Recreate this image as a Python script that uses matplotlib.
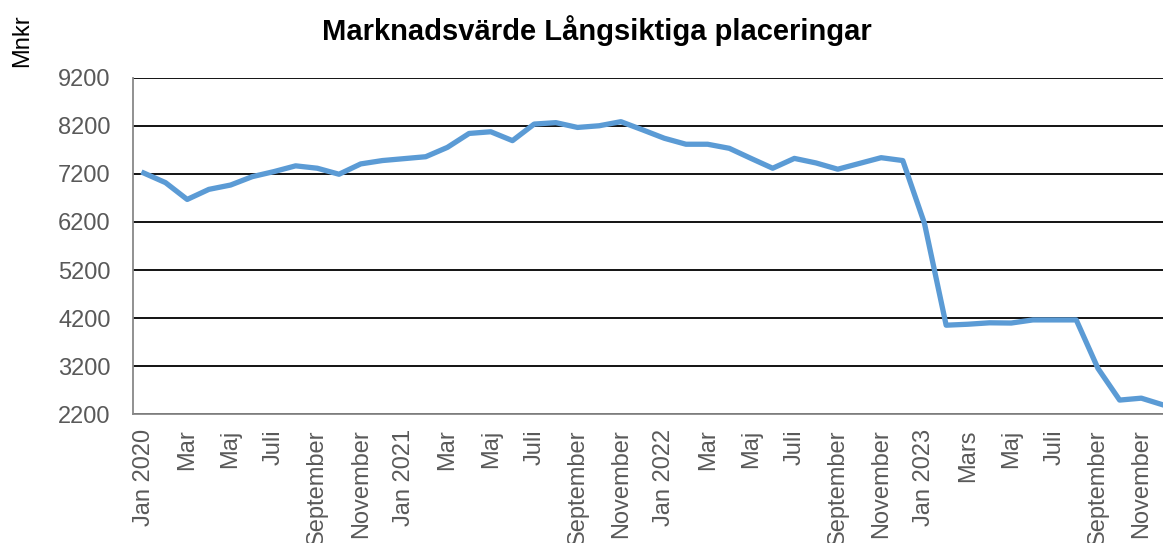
import matplotlib
matplotlib.use("Agg")
import matplotlib.pyplot as plt

plt.rcParams['font.family'] = ['Liberation Sans', 'DejaVu Sans']

months = list(range(48))
values = [7220, 7020, 6670, 6880, 6970, 7145, 7250, 7370, 7320, 7195, 7410, 7480,
          7520, 7560, 7755, 8045, 8080, 7895, 8240, 8270, 8170, 8205, 8290, 8120,
          7945, 7820, 7820, 7735, 7525, 7320, 7525, 7430, 7300, 7420, 7540, 7480,
          6170, 4050, 4070, 4100, 4095, 4160, 4160, 4160, 3150, 2490, 2530, 2390]
tick_labels = ["Jan 2020", "Mar", "Maj", "Juli", "September", "November",
               "Jan 2021", "Mar", "Maj", "Juli", "September", "November",
               "Jan 2022", "Mar", "Maj", "Juli", "September", "November",
               "Jan 2023", "Mars", "Maj", "Juli", "September", "November"]
yticks = [2200, 3200, 4200, 5200, 6200, 7200, 8200, 9200]

fig = plt.figure(figsize=(11.63, 5.43), dpi=100)
ax = fig.add_axes([133/1163, 1-414/543, 1-133/1163, (414-78)/543])

ax.plot(months, values, color='#5B9BD5', linewidth=3.8, solid_joinstyle='round', zorder=3)

ax.set_ylim(2200, 9200)
ax.set_xlim(-0.5, 47.0)
ax.set_yticks(yticks)
ax.set_yticklabels([str(v) for v in yticks])
ax.set_xticks(months[::2])
ax.set_xticklabels(tick_labels, rotation=90)
ax.tick_params(axis='both', length=0, labelsize=17, labelcolor='#595959')
ax.tick_params(axis='y', pad=16)
ax.tick_params(axis='x', pad=11)

ax.grid(axis='y', color='black', linewidth=1.3)
ax.set_axisbelow(True)
for s in ['top', 'right']:
    ax.spines[s].set_visible(False)
ax.spines['left'].set_color('#888888')
ax.spines['bottom'].set_color('#888888')
ax.spines['left'].set_linewidth(1.3)
ax.spines['bottom'].set_linewidth(1.3)
ax.spines['bottom'].set_zorder(4)

fig.text(597/1163, 1-31/543, "Marknadsvärde Långsiktiga placeringar",
         ha='center', va='center', fontsize=21, fontweight='bold')
fig.text(22/1163, 1-41/543, "Mnkr", rotation=90, ha='center', va='center', fontsize=17)

fig.savefig("out.png", dpi=100)
